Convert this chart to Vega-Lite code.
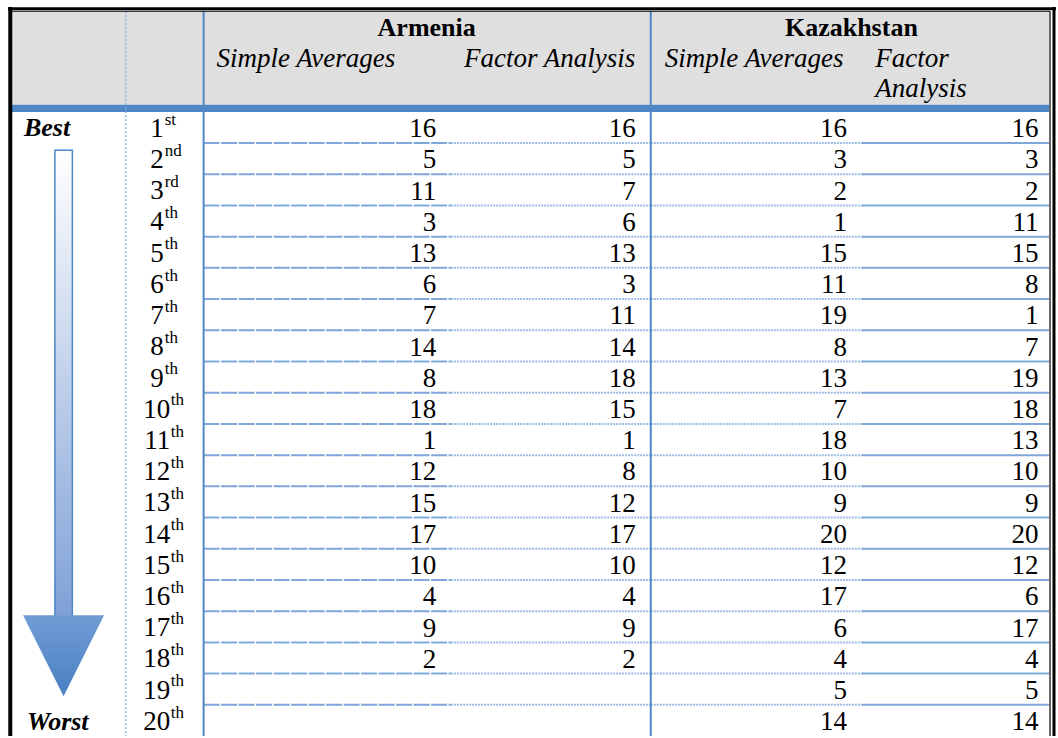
{
  "$schema": "https://vega.github.io/schema/vega-lite/v6.json",
  "width": 1058,
  "height": 738,
  "padding": 0,
  "autosize": {"type": "fit", "contains": "padding"},
  "background": "#ffffff",
  "config": {
    "view": {"stroke": null},
    "axis": {"disable": true},
    "font": "Liberation Serif",
    "mark": {"font": "Liberation Serif"},
    "text": {"font": "Liberation Serif", "fontSize": 27, "color": "#000000"}
  },
  "data": {
    "values": [
      {"rank": 1, "suffix": "st", "am_sa": 16, "am_fa": 16, "kz_sa": 16, "kz_fa": 16},
      {"rank": 2, "suffix": "nd", "am_sa": 5, "am_fa": 5, "kz_sa": 3, "kz_fa": 3},
      {"rank": 3, "suffix": "rd", "am_sa": 11, "am_fa": 7, "kz_sa": 2, "kz_fa": 2},
      {"rank": 4, "suffix": "th", "am_sa": 3, "am_fa": 6, "kz_sa": 1, "kz_fa": 11},
      {"rank": 5, "suffix": "th", "am_sa": 13, "am_fa": 13, "kz_sa": 15, "kz_fa": 15},
      {"rank": 6, "suffix": "th", "am_sa": 6, "am_fa": 3, "kz_sa": 11, "kz_fa": 8},
      {"rank": 7, "suffix": "th", "am_sa": 7, "am_fa": 11, "kz_sa": 19, "kz_fa": 1},
      {"rank": 8, "suffix": "th", "am_sa": 14, "am_fa": 14, "kz_sa": 8, "kz_fa": 7},
      {"rank": 9, "suffix": "th", "am_sa": 8, "am_fa": 18, "kz_sa": 13, "kz_fa": 19},
      {"rank": 10, "suffix": "th", "am_sa": 18, "am_fa": 15, "kz_sa": 7, "kz_fa": 18},
      {"rank": 11, "suffix": "th", "am_sa": 1, "am_fa": 1, "kz_sa": 18, "kz_fa": 13},
      {"rank": 12, "suffix": "th", "am_sa": 12, "am_fa": 8, "kz_sa": 10, "kz_fa": 10},
      {"rank": 13, "suffix": "th", "am_sa": 15, "am_fa": 12, "kz_sa": 9, "kz_fa": 9},
      {"rank": 14, "suffix": "th", "am_sa": 17, "am_fa": 17, "kz_sa": 20, "kz_fa": 20},
      {"rank": 15, "suffix": "th", "am_sa": 10, "am_fa": 10, "kz_sa": 12, "kz_fa": 12},
      {"rank": 16, "suffix": "th", "am_sa": 4, "am_fa": 4, "kz_sa": 17, "kz_fa": 6},
      {"rank": 17, "suffix": "th", "am_sa": 9, "am_fa": 9, "kz_sa": 6, "kz_fa": 17},
      {"rank": 18, "suffix": "th", "am_sa": 2, "am_fa": 2, "kz_sa": 4, "kz_fa": 4},
      {"rank": 19, "suffix": "th", "am_sa": null, "am_fa": null, "kz_sa": 5, "kz_fa": 5},
      {"rank": 20, "suffix": "th", "am_sa": null, "am_fa": null, "kz_sa": 14, "kz_fa": 14}
    ]
  },
  "encoding": {
    "x": {"type": "quantitative", "scale": {"domain": [0, 1058], "nice": false, "zero": false}},
    "y": {"type": "quantitative", "scale": {"domain": [-3.08, 20.5], "nice": false, "zero": false, "reverse": true}}
  },
  "layer": [
    {
      "data": {"values": [{}]},
      "mark": {"type": "rect", "color": "#DFDFDF"},
      "encoding": {"x": {"datum": 12}, "x2": {"datum": 1051}, "y": {"datum": -2.697}, "y2": {"datum": 0.275}}
    },
    {
      "data": {"values": [{}]},
      "mark": {"type": "rect", "color": "#4F87C7"},
      "encoding": {"x": {"datum": 12}, "x2": {"datum": 1051}, "y": {"datum": 0.275}, "y2": {"datum": 0.508}}
    },
    {
      "transform": [{"filter": "datum.rank < 20"}],
      "mark": {"type": "rule", "color": "#7FA7DA", "strokeWidth": 2, "strokeDash": [16, 1.5], "yOffset": 15.65},
      "encoding": {"y": {"field": "rank", "type": "quantitative"}, "x": {"datum": 204}, "x2": {"datum": 452}}
    },
    {
      "transform": [{"filter": "datum.rank < 20"}],
      "mark": {"type": "rule", "color": "#9DBCE4", "strokeWidth": 2, "strokeDash": [2, 1], "yOffset": 15.65},
      "encoding": {"y": {"field": "rank", "type": "quantitative"}, "x": {"datum": 452}, "x2": {"datum": 652}}
    },
    {
      "transform": [{"filter": "datum.rank < 20"}],
      "mark": {"type": "rule", "color": "#9DBCE4", "strokeWidth": 2, "strokeDash": [2, 1], "yOffset": 15.65},
      "encoding": {"y": {"field": "rank", "type": "quantitative"}, "x": {"datum": 652}, "x2": {"datum": 863}}
    },
    {
      "transform": [{"filter": "datum.rank < 20"}],
      "mark": {"type": "rule", "color": "#7FA7DA", "strokeWidth": 2, "yOffset": 15.65},
      "encoding": {"y": {"field": "rank", "type": "quantitative"}, "x": {"datum": 863}, "x2": {"datum": 1051}}
    },
    {
      "data": {"values": [{}]},
      "mark": {"type": "rule", "color": "#8DB4E2", "strokeWidth": 1.5, "strokeDash": [2, 2]},
      "encoding": {"x": {"datum": 126}, "y": {"datum": -2.719}, "y2": {"datum": 20.5}}
    },
    {
      "data": {"values": [{}]},
      "mark": {"type": "rule", "color": "#4F87C7", "strokeWidth": 2},
      "encoding": {"x": {"datum": 204}, "y": {"datum": -2.719}, "y2": {"datum": 20.5}}
    },
    {
      "data": {"values": [{}]},
      "mark": {"type": "rule", "color": "#4F87C7", "strokeWidth": 2},
      "encoding": {"x": {"datum": 652}, "y": {"datum": -2.719}, "y2": {"datum": 20.5}}
    },
    {
      "data": {"values": [{}]},
      "mark": {"type": "rule", "color": "#000000", "strokeWidth": 3},
      "encoding": {"y": {"datum": -2.802}, "x": {"datum": 8}, "x2": {"datum": 1058}}
    },
    {
      "data": {"values": [{}]},
      "mark": {"type": "rule", "color": "#000000", "strokeWidth": 1},
      "encoding": {"y": {"datum": -2.719}, "x": {"datum": 12}, "x2": {"datum": 1052}}
    },
    {
      "data": {"values": [{}]},
      "mark": {"type": "rule", "color": "#000000", "strokeWidth": 4},
      "encoding": {"x": {"datum": 10.3}, "y": {"datum": -2.856}, "y2": {"datum": 20.5}}
    },
    {
      "data": {"values": [{}]},
      "mark": {"type": "rule", "color": "#000000", "strokeWidth": 1.2},
      "encoding": {"x": {"datum": 1052}, "y": {"datum": -2.719}, "y2": {"datum": 20.5}}
    },
    {
      "data": {"values": [{}]},
      "mark": {"type": "rule", "color": "#000000", "strokeWidth": 3},
      "encoding": {"x": {"datum": 1056}, "y": {"datum": -2.856}, "y2": {"datum": 20.5}}
    },
    {
      "data": {"values": [{}]},
      "mark": {"type": "text", "font": "Liberation Serif", "fontSize": 26, "text": "Armenia", "fontWeight": "bold", "align": "center", "baseline": "alphabetic"},
      "encoding": {"x": {"datum": 427.5}, "y": {"datum": -1.93}}
    },
    {
      "data": {"values": [{}]},
      "mark": {"type": "text", "font": "Liberation Serif", "fontSize": 26, "text": "Kazakhstan", "fontWeight": "bold", "align": "center", "baseline": "alphabetic"},
      "encoding": {"x": {"datum": 853}, "y": {"datum": -1.93}}
    },
    {
      "data": {"values": [{}]},
      "mark": {"type": "text", "font": "Liberation Serif", "fontSize": 27, "text": "Simple Averages", "fontStyle": "italic", "align": "left", "baseline": "alphabetic"},
      "encoding": {"x": {"datum": 217}, "y": {"datum": -0.949}}
    },
    {
      "data": {"values": [{}]},
      "mark": {"type": "text", "font": "Liberation Serif", "fontSize": 27, "text": "Factor Analysis", "fontStyle": "italic", "align": "left", "baseline": "alphabetic"},
      "encoding": {"x": {"datum": 465}, "y": {"datum": -0.949}}
    },
    {
      "data": {"values": [{}]},
      "mark": {"type": "text", "font": "Liberation Serif", "fontSize": 27, "text": "Simple Averages", "fontStyle": "italic", "align": "left", "baseline": "alphabetic"},
      "encoding": {"x": {"datum": 666}, "y": {"datum": -0.949}}
    },
    {
      "data": {"values": [{}]},
      "mark": {"type": "text", "font": "Liberation Serif", "fontSize": 27, "text": "Factor", "fontStyle": "italic", "align": "left", "baseline": "alphabetic"},
      "encoding": {"x": {"datum": 877}, "y": {"datum": -0.949}}
    },
    {
      "data": {"values": [{}]},
      "mark": {"type": "text", "font": "Liberation Serif", "fontSize": 27, "text": "Analysis", "fontStyle": "italic", "align": "left", "baseline": "alphabetic"},
      "encoding": {"x": {"datum": 877}, "y": {"datum": 0.019}}
    },
    {
      "transform": [{"filter": "isValid(datum.am_sa)"}],
      "mark": {"type": "text", "font": "Liberation Serif", "fontSize": 27, "align": "right", "baseline": "alphabetic", "dy": 9.8},
      "encoding": {"x": {"datum": 437}, "y": {"field": "rank", "type": "quantitative"}, "text": {"field": "am_sa", "type": "nominal"}}
    },
    {
      "transform": [{"filter": "isValid(datum.am_fa)"}],
      "mark": {"type": "text", "font": "Liberation Serif", "fontSize": 27, "align": "right", "baseline": "alphabetic", "dy": 9.8},
      "encoding": {"x": {"datum": 637}, "y": {"field": "rank", "type": "quantitative"}, "text": {"field": "am_fa", "type": "nominal"}}
    },
    {
      "transform": [{"filter": "isValid(datum.kz_sa)"}],
      "mark": {"type": "text", "font": "Liberation Serif", "fontSize": 27, "align": "right", "baseline": "alphabetic", "dy": 9.8},
      "encoding": {"x": {"datum": 848.5}, "y": {"field": "rank", "type": "quantitative"}, "text": {"field": "kz_sa", "type": "nominal"}}
    },
    {
      "transform": [{"filter": "isValid(datum.kz_fa)"}],
      "mark": {"type": "text", "font": "Liberation Serif", "fontSize": 27, "align": "right", "baseline": "alphabetic", "dy": 9.8},
      "encoding": {"x": {"datum": 1040.5}, "y": {"field": "rank", "type": "quantitative"}, "text": {"field": "kz_fa", "type": "nominal"}}
    },
    {
      "transform": [{"filter": "datum.rank < 10"}],
      "mark": {"type": "text", "font": "Liberation Serif", "fontSize": 27, "align": "right", "baseline": "alphabetic", "dy": 9.5},
      "encoding": {"x": {"datum": 164}, "y": {"field": "rank", "type": "quantitative"}, "text": {"field": "rank", "type": "nominal"}}
    },
    {
      "transform": [{"filter": "datum.rank < 10"}],
      "mark": {"type": "text", "font": "Liberation Serif", "align": "left", "baseline": "alphabetic", "dy": -2.8, "dx": 1, "fontSize": 17},
      "encoding": {"x": {"datum": 164}, "y": {"field": "rank", "type": "quantitative"}, "text": {"field": "suffix", "type": "nominal"}}
    },
    {
      "transform": [{"filter": "datum.rank >= 10"}],
      "mark": {"type": "text", "font": "Liberation Serif", "fontSize": 27, "align": "right", "baseline": "alphabetic", "dy": 9.5},
      "encoding": {"x": {"datum": 170.5}, "y": {"field": "rank", "type": "quantitative"}, "text": {"field": "rank", "type": "nominal"}}
    },
    {
      "transform": [{"filter": "datum.rank >= 10"}],
      "mark": {"type": "text", "font": "Liberation Serif", "align": "left", "baseline": "alphabetic", "dy": -2.8, "dx": 0.5, "fontSize": 17},
      "encoding": {"x": {"datum": 170.5}, "y": {"field": "rank", "type": "quantitative"}, "text": {"field": "suffix", "type": "nominal"}}
    },
    {
      "data": {"values": [{}]},
      "mark": {"type": "text", "font": "Liberation Serif", "fontSize": 26, "text": "Best", "fontWeight": "bold", "fontStyle": "italic", "align": "left", "baseline": "alphabetic"},
      "encoding": {"x": {"datum": 24}, "y": {"datum": 1.281}}
    },
    {
      "data": {"values": [{}]},
      "mark": {"type": "text", "font": "Liberation Serif", "fontSize": 26, "text": "Worst", "fontWeight": "bold", "fontStyle": "italic", "align": "left", "baseline": "alphabetic"},
      "encoding": {"x": {"datum": 27}, "y": {"datum": 20.299}}
    },
    {
      "data": {"values": [{}]},
      "mark": {
        "type": "rect",
        "stroke": "#4F87C7",
        "strokeWidth": 1.5,
        "fill": {
          "gradient": "linear", "x1": 0, "y1": 0, "x2": 0, "y2": 1,
          "stops": [{"offset": 0, "color": "#FFFFFF"}, {"offset": 1, "color": "#7FA0D6"}]
        }
      },
      "encoding": {"x": {"datum": 55}, "x2": {"datum": 72.5}, "y": {"datum": 1.735}, "y2": {"datum": 16.73}}
    },
    {
      "data": {"values": [{}]},
      "mark": {
        "type": "point",
        "filled": true,
        "opacity": 1,
        "shape": "M-1,-1L1,-1L0,1Z",
        "size": 6561,
        "strokeWidth": 0,
        "fill": {
          "gradient": "linear", "x1": 0, "y1": 0, "x2": 0, "y2": 1,
          "stops": [{"offset": 0, "color": "#709CD4"}, {"offset": 1, "color": "#4A7FC3"}]
        }
      },
      "encoding": {"x": {"datum": 63.7}, "y": {"datum": 17.928}}
    }
  ]
}
